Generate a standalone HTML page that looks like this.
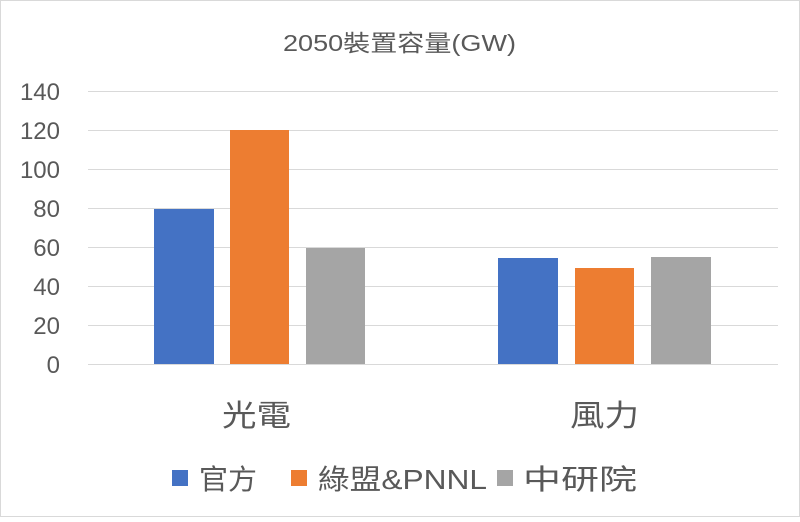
<!DOCTYPE html>
<html><head><meta charset="utf-8"><style>
body{margin:0;background:#fff;}
svg text{font-family:"Liberation Sans","Noto Sans CJK TC",sans-serif;fill:#595959;}
</style></head><body>
<svg width="800" height="517" viewBox="0 0 800 517" xmlns="http://www.w3.org/2000/svg">
<rect x="0.5" y="0.5" width="799" height="516" fill="#fff" stroke="#d9d9d9"/>
<text x="283" y="51" font-size="23" textLength="233" lengthAdjust="spacingAndGlyphs">2050裝置容量(GW)</text>
<g stroke="#d9d9d9" stroke-width="1">
<line x1="88" x2="778" y1="91.5" y2="91.5"/>
<line x1="88" x2="778" y1="130.5" y2="130.5"/>
<line x1="88" x2="778" y1="169.5" y2="169.5"/>
<line x1="88" x2="778" y1="208.5" y2="208.5"/>
<line x1="88" x2="778" y1="247.5" y2="247.5"/>
<line x1="88" x2="778" y1="286.5" y2="286.5"/>
<line x1="88" x2="778" y1="325.5" y2="325.5"/>
<line x1="88" x2="778" y1="364.5" y2="364.5"/>
</g>
<g font-size="24" text-anchor="end">
<text x="60" y="100">140</text><text x="60" y="139">120</text><text x="60" y="178">100</text>
<text x="60" y="217">80</text><text x="60" y="256">60</text><text x="60" y="295">40</text>
<text x="60" y="334">20</text><text x="60" y="373">0</text>
</g>
<rect x="154" y="209" width="60" height="155" fill="#4472c4"/>
<rect x="230" y="130" width="59" height="234" fill="#ed7d31"/>
<rect x="306" y="248" width="59" height="116" fill="#a5a5a5"/>
<rect x="498" y="258" width="60" height="106" fill="#4472c4"/>
<rect x="575" y="268" width="59" height="96" fill="#ed7d31"/>
<rect x="651" y="257" width="60" height="107" fill="#a5a5a5"/>
<text x="222" y="426" font-size="30" textLength="69" lengthAdjust="spacingAndGlyphs">光電</text>
<text x="570" y="426" font-size="30" textLength="69" lengthAdjust="spacingAndGlyphs">風力</text>
<rect x="172" y="470" width="16" height="16" fill="#4472c4"/>
<text x="199" y="489" font-size="28" textLength="58" lengthAdjust="spacingAndGlyphs">官方</text>
<rect x="291" y="470" width="16" height="16" fill="#ed7d31"/>
<text x="318" y="489" font-size="28" textLength="169" lengthAdjust="spacingAndGlyphs">綠盟&amp;PNNL</text>
<rect x="497" y="470" width="16" height="16" fill="#a5a5a5"/>
<text x="523" y="489" font-size="28" textLength="114" lengthAdjust="spacingAndGlyphs">中研院</text>
</svg>
</body></html>
